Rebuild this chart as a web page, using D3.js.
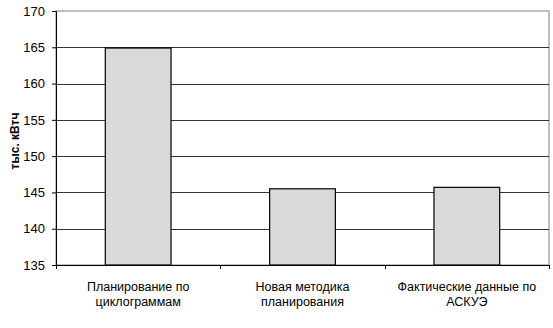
<!DOCTYPE html>
<html>
<head>
<meta charset="utf-8">
<script src="https://cdn.jsdelivr.net/npm/d3@7"></script>
<style>
  body { margin: 0; background: #fff; }
  text { font-family: "Liberation Sans", Arial, sans-serif; fill: #000; }
</style>
</head>
<body>
<div id="chart"></div>
<script>
  // data
  var categories = [["Планирование по", "циклограммам"], ["Новая методика", "планирования"], ["Фактические данные по", "АСКУЭ"]];
  var values = [164.9, 145.5, 145.7];
  var yTicks = [135, 140, 145, 150, 155, 160, 165, 170];
  var yTitle = "тыс. кВтч";

  var svg = d3.select("#chart")
      .append("svg")
      .attr("width", 553)
      .attr("height", 328);

  var margin = {top: 11, right: 4, bottom: 63, left: 56},
      width = +svg.attr("width") - margin.left - margin.right,
      height = +svg.attr("height") - margin.top - margin.bottom;

  var g = svg.append("g")
      .attr("transform", "translate(" + margin.left + "," + margin.top + ")");

  var x = d3.scaleBand()
      .domain(d3.range(categories.length))
      .range([0, width])
      .paddingInner(0.6)
      .paddingOuter(0.3);

  var y = d3.scaleLinear()
      .domain([135, 170])
      .range([height, 0]);

  // plot border
  g.append("rect")
      .attr("x", 0).attr("y", 0)
      .attr("width", width).attr("height", height)
      .attr("fill", "none")
      .attr("stroke", "#808080");

  // gridlines
  g.selectAll(".grid")
      .data(yTicks.slice(1, -1))
    .enter().append("line")
      .attr("x1", 0).attr("x2", width)
      .attr("y1", function(d) { return Math.round(y(d)) + 0.5; })
      .attr("y2", function(d) { return Math.round(y(d)) + 0.5; })
      .attr("stroke", "#000")
      .attr("stroke-opacity", 0.8);

  // bars
  g.selectAll(".bar")
      .data(values)
    .enter().append("rect")
      .attr("x", function(d, i) { return x(i); })
      .attr("y", function(d) { return y(d); })
      .attr("width", x.bandwidth())
      .attr("height", function(d) { return height - y(d); })
      .attr("fill", "#d9d9d9")
      .attr("stroke", "#000")
      .attr("stroke-width", 1.2);

  // y axis
  var yAxis = g.append("g")
      .call(d3.axisLeft(y).tickValues(yTicks).tickSize(4).tickPadding(7).tickFormat(d3.format("d")));
  yAxis.select(".domain").attr("stroke", "#000");
  yAxis.selectAll(".tick line").attr("stroke", "#000");
  yAxis.selectAll("text").style("font-size", "13px").attr("fill", "#000");

  // x axis ticks on category boundaries
  var step = width / categories.length;
  g.append("line")
      .attr("x1", 0).attr("x2", width)
      .attr("y1", height + 0.5).attr("y2", height + 0.5)
      .attr("stroke", "#000");
  g.selectAll(".xtick")
      .data(d3.range(categories.length + 1))
    .enter().append("line")
      .attr("x1", function(d) { return Math.round(d * step) + 0.5; })
      .attr("x2", function(d) { return Math.round(d * step) + 0.5; })
      .attr("y1", height).attr("y2", height + 4)
      .attr("stroke", "#000");

  var lbl = g.selectAll(".xlabel")
      .data(categories)
    .enter().append("text")
      .attr("text-anchor", "middle")
      .attr("transform", function(d, i) { return "translate(" + (x(i) + x.bandwidth() / 2) + "," + (height + 26) + ")"; })
      .style("font-size", "12.5px");
  lbl.selectAll("tspan")
      .data(function(d) { return d; })
    .enter().append("tspan")
      .attr("x", 0)
      .attr("dy", function(d, i) { return i === 0 ? 0 : 15; })
      .text(function(d) { return d; });

  // y title
  svg.append("text")
      .attr("transform", "translate(19,141) rotate(-90)")
      .attr("text-anchor", "middle")
      .style("font-size", "12px")
      .style("font-weight", "bold")
      .text(yTitle);
</script>
</body>
</html>
